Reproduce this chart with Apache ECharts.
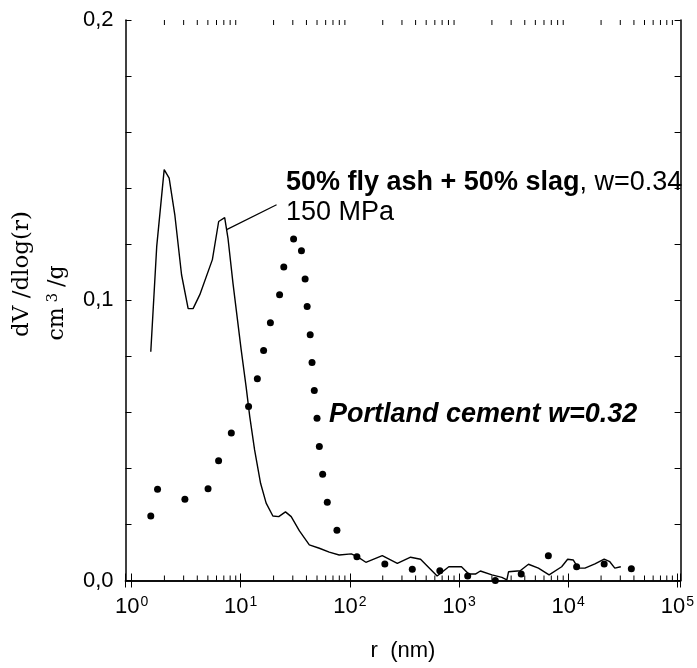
<!DOCTYPE html>
<html><head><meta charset="utf-8">
<script src="https://cdn.jsdelivr.net/npm/echarts@6/dist/echarts.min.js"></script>
<style>html,body{margin:0;padding:0;background:#fff}#c{width:697px;height:668px}</style>
</head><body><div id="c"></div>
<script>
// 50% fly ash + 50% slag, w=0.34, 150 MPa (solid line)
const blendR = [1.50,1.70,1.99,2.21,2.49,2.87,3.30,3.66,4.22,5.50,6.28,7.13,7.64,8.49,10.1,11.2,12.1,13.4,15.2,17.1,19.7,22.3,25.7,29.0,34.5,42.5,52.5,64.7,79.8,103,117,140,198,272,360,444,630,806,1052,1227,1413,1568,2000,2467,2742,2839,3631,4325,5335,6683,8710,9880,11140,12370,14230,17570,21350,24050,26720,30330];
const blendV = [0.0816,0.1192,0.1466,0.1436,0.1305,0.1091,0.0970,0.0970,0.1020,0.1145,0.1281,0.1295,0.1222,0.1061,0.0823,0.0692,0.0585,0.0466,0.0347,0.0276,0.0230,0.0228,0.0245,0.0228,0.0177,0.0127,0.0115,0.0101,0.0091,0.0095,0.0085,0.0065,0.0089,0.0061,0.0083,0.0076,0.0016,0.0049,0.0049,0.0023,0.0023,0.0034,0.0020,0.0011,0.0002,0.0031,0.0035,0.0058,0.0044,0.0020,0.0049,0.0076,0.0073,0.0044,0.0044,0.0059,0.0076,0.0067,0.0044,0.0049];
// Portland cement w=0.32 (dots)
const portlandR = [1.50,1.73,3.08,5.02,6.27,8.20,11.8,14.2,16.2,18.7,22.7,24.8,30.5,36.0,38.9,40.6,43.3,45.0,47.2,50.0,52.5,56.3,62.1,76.1,116,209,373,667,1200,2150,3710,6580,11940,21350,37880];
const portlandV = [0.0230,0.0326,0.0290,0.0327,0.0427,0.0526,0.0621,0.0720,0.0821,0.0920,0.1020,0.1119,0.1219,0.1177,0.1076,0.0978,0.0877,0.0778,0.0678,0.0579,0.0478,0.0379,0.0279,0.0179,0.0085,0.0059,0.0040,0.0035,0.0016,0.0000,0.0023,0.0088,0.0049,0.0059,0.0042];
// annotation leader line
const leaderR = [7.43, 21.3];
const leaderV = [0.1252, 0.1341];
// axis ticks
const xDecades = [0,1,2,3,4];
const xMinorMult = [2,3,4,5,6,7,8,9];
const yLabelStep = 0.1;

const X_MIN = 0.88, X_MAX = 107000, Y_MIN = 0, Y_MAX = 0.2;
const minorTicks = [];
xDecades.forEach(d => xMinorMult.forEach(m => minorTicks.push([m * Math.pow(10, d), 0])));

const zip = (a, b) => a.map((v, i) => [v, b[i]]);
const F = 'Liberation Sans, Arial, sans-serif';
const S = 'DejaVu Serif, serif';

function xLabel(v) {
  const e = Math.round(Math.log10(v));
  if (Math.abs(v - Math.pow(10, e)) / Math.pow(10, e) > 1e-6) return '';
  return '{b|10}{s|' + e + '}';
}
function yLabel(v) {
  const k = v / yLabelStep;
  if (Math.abs(k - Math.round(k)) > 1e-6) return '';
  return v.toFixed(1).replace('.', ',');
}

const chart = echarts.init(document.getElementById('c'), null, {renderer: 'canvas'});
const axisLine = {show: true, lineStyle: {color: '#000', width: 1.5}};
chart.setOption({
  animation: false,
  backgroundColor: '#fff',
  grid: {left: 125.5, right: 14.5, top: 20, bottom: 87.5, containLabel: false},
  xAxis: [{
    type: 'log', logBase: 10, min: X_MIN, max: X_MAX, splitNumber: 5,
    axisLine: axisLine, splitLine: {show: false},
    axisTick: {show: true, inside: true, length: 7, lineStyle: {color: '#000', width: 1}},
    axisLabel: {formatter: xLabel, margin: 15, color: '#000',
      rich: {b: {fontFamily: F, fontSize: 22, color: '#000'},
             s: {fontFamily: F, fontSize: 14, color: '#000', verticalAlign: 'top', padding: [0, 0, 0, 1]}}}
  }, {
    type: 'log', logBase: 10, min: X_MIN, max: X_MAX, splitNumber: 5, position: 'top',
    axisLine: axisLine, splitLine: {show: false},
    axisTick: {show: true, inside: true, length: 7, lineStyle: {color: '#000', width: 1}},
    axisLabel: {show: false}
  }],
  yAxis: [{
    type: 'value', min: Y_MIN, max: Y_MAX, interval: 0.02,
    axisLine: axisLine, splitLine: {show: false},
    axisTick: {show: true, inside: true, length: 6, lineStyle: {color: '#000', width: 1}},
    axisLabel: {formatter: yLabel, margin: 12, color: '#000', fontFamily: F, fontSize: 22}
  }, {
    type: 'value', min: Y_MIN, max: Y_MAX, interval: 0.02, position: 'right',
    axisLine: axisLine, splitLine: {show: false},
    axisTick: {show: true, inside: true, length: 6, lineStyle: {color: '#000', width: 1}},
    axisLabel: {show: false}
  }],
  series: [{
    type: 'line', data: zip(blendR, blendV), showSymbol: false, symbol: 'none',
    lineStyle: {color: '#000', width: 1.4}, z: 3
  }, {
    type: 'scatter', data: zip(portlandR, portlandV), symbol: 'circle', symbolSize: 7,
    itemStyle: {color: '#000', opacity: 1}, z: 4
  }, {
    type: 'line', data: zip(leaderR, leaderV), showSymbol: false, symbol: 'none',
    lineStyle: {color: '#000', width: 1.2}
  }, {
    type: 'custom', data: minorTicks, clip: false, silent: true,
    renderItem: function (params, api) {
      const x = api.value(0);
      const b = api.coord([x, Y_MIN]);
      const t = api.coord([x, Y_MAX]);
      const st = {stroke: '#000', lineWidth: 1};
      return {type: 'group', children: [
        {type: 'line', shape: {x1: b[0], y1: b[1], x2: b[0], y2: b[1] - 5}, style: st},
        {type: 'line', shape: {x1: t[0], y1: t[1], x2: t[0], y2: t[1] + 5}, style: st}
      ]};
    }
  }],
  graphic: [
    {type: 'text', x: 286, y: 183, style: {
      text: '{b|50% fly ash + 50% slag}{n|, w=0.34}', verticalAlign: 'middle',
      rich: {b: {fontFamily: F, fontSize: 27, fontWeight: 'bold', fill: '#000'},
             n: {fontFamily: F, fontSize: 27, fill: '#000'}}}},
    {type: 'text', x: 286, y: 213, style: {text: '150 MPa', font: '27px ' + F, fill: '#000', verticalAlign: 'middle'}},
    {type: 'text', x: 329, y: 415, style: {text: 'Portland cement w=0.32', font: 'italic bold 27px ' + F, fill: '#000', verticalAlign: 'middle'}},
    {type: 'text', x: 403, y: 651, style: {text: 'r  (nm)', font: '22px ' + F, fill: '#000', align: 'center', verticalAlign: 'middle'}},
    {type: 'text', x: 22, y: 274, rotation: Math.PI / 2, style: {text: 'dV /dlog(r)', font: '23px ' + S, fill: '#000', align: 'center', verticalAlign: 'middle'}},
    {type: 'text', x: 57, y: 303, rotation: Math.PI / 2, style: {
      text: '{n|cm}{s|3}{n|/g}', align: 'center', verticalAlign: 'middle',
      rich: {n: {fontFamily: S, fontSize: 22, fill: '#000'},
             s: {fontFamily: S, fontSize: 15, fill: '#000', verticalAlign: 'top', padding: [0, 6, 0, 5]}}}}
  ]
});
</script></body></html>
